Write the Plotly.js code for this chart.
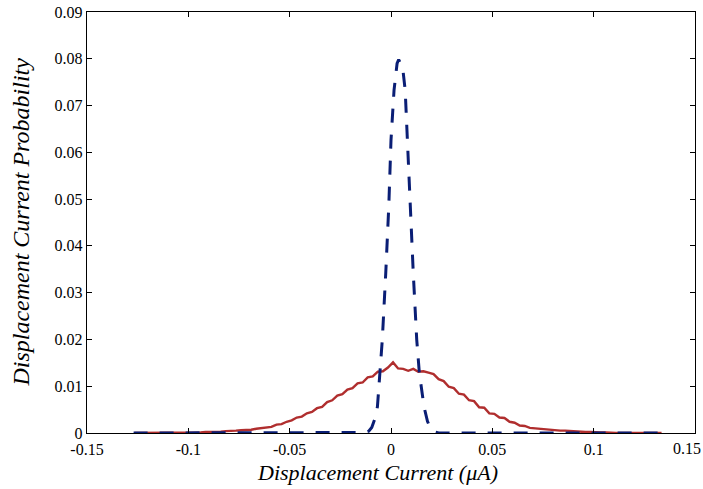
<!DOCTYPE html>
<html>
<head>
<meta charset="utf-8">
<script src="https://cdn.plot.ly/plotly-3.0.1.min.js"></script>
<style>html,body{margin:0;padding:0;background:#fff;}#chart{width:703px;height:489px;}</style>
</head>
<body>
<div id="chart"></div>
<script>
// Broad distribution (solid red)
var redX = [-0.1265,-0.124,-0.1215,-0.119,-0.1165,-0.114,-0.1115,-0.109,-0.1065,-0.104,-0.1015,-0.099,-0.0965,-0.094,-0.0915,-0.089,-0.0865,-0.084,-0.0815,-0.079,-0.0765,-0.074,-0.0715,-0.069,-0.0665,-0.064,-0.0615,-0.059,-0.0565,-0.054,-0.0515,-0.049,-0.0465,-0.044,-0.0415,-0.039,-0.0365,-0.034,-0.0315,-0.029,-0.0265,-0.024,-0.0215,-0.019,-0.0165,-0.014,-0.0115,-0.009,-0.0065,-0.004,-0.0015,0.001,0.0035,0.006,0.0085,0.011,0.0135,0.016,0.0185,0.021,0.0235,0.026,0.0285,0.031,0.0335,0.036,0.0385,0.041,0.0435,0.046,0.0485,0.051,0.0535,0.056,0.0585,0.061,0.0635,0.066,0.0685,0.071,0.0735,0.076,0.0785,0.081,0.0835,0.086,0.0885,0.091,0.0935,0.096,0.0985,0.101,0.1035,0.106,0.1085,0.111,0.1135,0.116,0.1185,0.121,0.1235,0.126,0.1285,0.131,0.1335];
var redY = [0,0,0,0,0,0,0,0,0,
  0.0001,0,0.0001,0.0001,0.0001,0.0002,0.0002,0.0003,0.0003,0.0004,0.0004,
  0.0005,0.0006,0.0006,0.0007,0.0009,0.0010,0.0012,0.0013,0.0018,0.0019,
  0.0024,0.0027,0.0033,0.0035,0.0042,0.0045,0.0053,0.0056,0.0066,0.0070,
  0.0080,0.0083,0.0093,0.0096,0.0106,0.0108,0.0119,0.0121,0.0131,0.0132,
  0.0140,0.0151,0.0138,0.0137,0.0133,0.0137,0.0131,0.0132,0.0129,0.0126,
  0.0115,0.0111,0.0099,0.0096,0.0084,0.0082,0.0070,0.0068,0.0055,0.0054,
  0.0042,0.0041,0.0033,0.0032,0.0024,0.0022,0.0016,0.0015,0.0011,0.0010,
  0.0008,0.0007,0.0007,0.0006,0.0005,0.0005,0.0004,0.0003,0.0003,0.0002,
  0.0002,0.0001,0.0001,0.0001,0,
  0,0,0,0,0,0,0,0,0,0];

// Narrow distribution (dashed blue)
var blueX = [-0.1270,-0.0180,-0.0150,-0.0125,-0.0110,-0.0095,-0.0080,-0.0067,-0.0054,-0.0043,-0.0026,-0.0011,0.0000,0.0015,0.0030,0.0038,0.0045,0.0056,0.0070,0.0080,0.0094,0.0110,0.0127,0.0140,0.0163,0.0180,0.0195,0.0210,0.0235,0.1330];
var blueY = [0,0,0.0001,0.0002,0.0004,0.0012,0.0030,0.0056,0.0128,0.0199,0.0341,0.0484,0.0626,0.0733,0.0790,0.0798,0.0792,0.0787,0.0733,0.0626,0.0484,0.0341,0.0199,0.0128,0.0056,0.0025,0.0010,0.0003,0,0];

var xTickVals = [-0.15,-0.1,-0.05,0,0.05,0.1,0.15];
var xTickText = ['-0.15','-0.1','-0.05','0','0.05','0.1','0.15'];
var yTickVals = [0,0.01,0.02,0.03,0.04,0.05,0.06,0.07,0.08,0.09];
var yTickText = ['0','0.01','0.02','0.03','0.04','0.05','0.06','0.07','0.08','0.09'];

var serif = 'Liberation Serif, DejaVu Serif, serif';

// last x tick label is nudged inside the page (as in the reference) via an annotation
var lastIdx = xTickText.length - 1;
var shownXTickText = xTickText.map(function (t, i) { return i === lastIdx ? '' : t; });

var traces = [
  {x: redX, y: redY, type: 'scatter', mode: 'lines',
   line: {color: '#b02e2e', width: 2.4}, hoverinfo: 'none'},
  {x: blueX, y: blueY, type: 'scatter', mode: 'lines',
   line: {color: '#0a1e75', width: 3, dash: '14px,12px'}, hoverinfo: 'none'}
];

var axisCommon = {
  showgrid: false, zeroline: false, showline: true, linecolor: '#000', linewidth: 1.2,
  mirror: 'ticks', ticks: 'inside', ticklen: 5, tickcolor: '#000', tickwidth: 1,
  automargin: false,
  tickfont: {family: serif, size: 16, color: '#000'}
};

var layout = {
  width: 703, height: 489,
  margin: {l: 87, r: 8, t: 12, b: 56},
  paper_bgcolor: '#fff', plot_bgcolor: '#fff',
  showlegend: false,
  xaxis: Object.assign({}, axisCommon, {
    range: [-0.15, 0.15], tickmode: 'array', tickvals: xTickVals, ticktext: shownXTickText,
    ticklabelstandoff: 2
  }),
  yaxis: Object.assign({}, axisCommon, {
    range: [0, 0.09], tickmode: 'array', tickvals: yTickVals, ticktext: yTickText
  }),
  annotations: [
    {text: xTickText[lastIdx], xref: 'paper', yref: 'paper',
     x: 1.0125, y: -0.038, xanchor: 'right', yanchor: 'middle', showarrow: false,
     font: {family: serif, size: 16, color: '#000'}},
    {text: '<i>Displacement Current (μA)</i>', xref: 'paper', yref: 'paper',
     x: 0.477, y: -0.095, xanchor: 'center', yanchor: 'middle', showarrow: false,
     font: {family: serif, size: 22, color: '#000'}},
    {text: '<i>Displacement Current Probability</i>', xref: 'paper', yref: 'paper',
     x: -0.11, y: 0.5, xanchor: 'center', yanchor: 'middle', textangle: -90, showarrow: false,
     font: {family: serif, size: 24, color: '#000'}}
  ]
};

Plotly.newPlot('chart', traces, layout, {staticPlot: true, displayModeBar: false});
</script>
</body>
</html>
